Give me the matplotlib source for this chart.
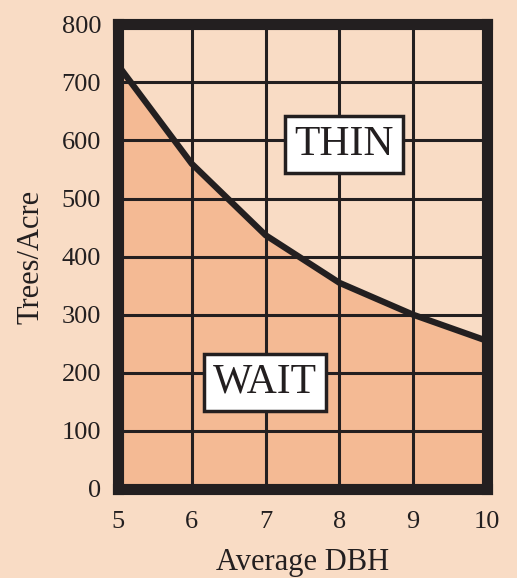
import matplotlib
matplotlib.use('Agg')
import matplotlib.pyplot as plt

# Stocking guide curve: trees per acre vs average DBH
dbh = [5, 6, 7, 8, 9, 10]
trees_per_acre = [730, 560, 437, 355, 300, 255]
x_ticks = [5, 6, 7, 8, 9, 10]
y_ticks = [0, 100, 200, 300, 400, 500, 600, 700, 800]

bg = '#F9DCC5'
fill = '#F4BA94'
ink = '#231F20'

plt.rcParams['font.family'] = ['Liberation Serif', 'DejaVu Serif']

fig = plt.figure(figsize=(5.17, 5.78), dpi=100, facecolor=bg)
ax = fig.add_axes([0.228, 0.154, 0.714, 0.804])
ax.set_facecolor(bg)

ax.fill_between(dbh, trees_per_acre, 0, color=fill, zorder=1, linewidth=0)
ax.grid(True, color=ink, linewidth=2.2, zorder=2)
ax.set_axisbelow(False)
ax.plot(dbh, trees_per_acre, color=ink, linewidth=4.5, zorder=3,
        solid_joinstyle='miter', clip_on=False)

ax.set_xlim(5, 10)
ax.set_ylim(0, 800)
ax.set_xticks(x_ticks)
ax.set_yticks(y_ticks)
ax.tick_params(length=0, labelsize=19, colors=ink, pad=16)
ax.tick_params(axis='y', pad=12)
for s in ax.spines.values():
    s.set_linewidth(8)
    s.set_color(ink)
    s.set_zorder(4)

ax.set_xlabel('Average DBH', fontsize=22, color=ink, labelpad=11)
ax.set_ylabel('Trees/Acre', fontsize=22, color=ink, labelpad=12)

box = dict(boxstyle='square,pad=0.22', facecolor='white', edgecolor=ink, linewidth=2.5)
ax.text(8.06, 593, 'THIN', fontsize=30, color=ink, ha='center', va='center',
        bbox=box, zorder=5)
ax.text(6.99, 184, 'WAIT', fontsize=30, color=ink, ha='center', va='center',
        bbox=box, zorder=5)

fig.savefig('out.png', dpi=100, facecolor=bg)
